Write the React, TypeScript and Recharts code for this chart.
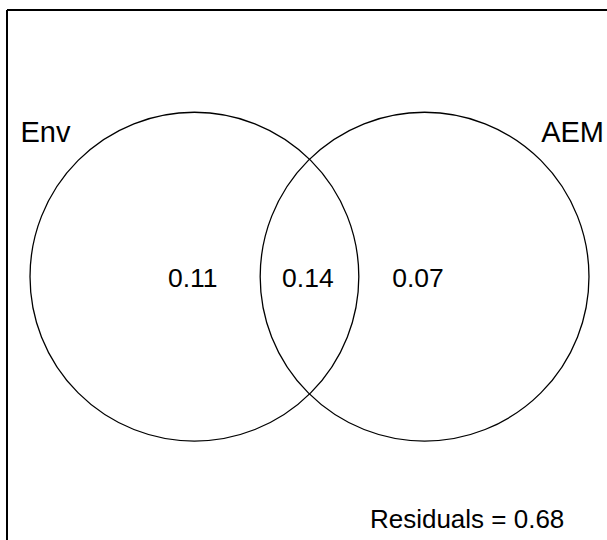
import React from 'react';
import { ScatterChart, Scatter, XAxis, YAxis, ReferenceLine } from 'recharts';

// Venn of variation partitioning (two explanatory sets)
const setNames = ['Env', 'AEM'];
const setCenterX = [-0.7, 0.7];
const setCenterY = [0, 0];
const setRadius = [1, 1];

// fractions: Env only, shared, AEM only
const fractionValues = [0.11, 0.14, 0.07];
const fractionX = [-0.71, -0.01, 0.66];
const fractionY = [0, 0, 0];

const residualValue = 0.68;
const residualX = [1.55];
const residualY = [-1.527];

const X_MIN = -1.84;
const X_MAX = 1.84;
const Y_MIN = -1.6;
const Y_MAX = 1.62;

const CHART_W = 613;
const CHART_H = 540;
const MARGIN = { top: 10, right: 1, bottom: 0, left: 7 };
const PX_PER_UNIT = (CHART_W - MARGIN.left - MARGIN.right) / (X_MAX - X_MIN);

const FONT = '"Liberation Sans", Arial, sans-serif';

const circleData = setNames.map((name, i) => ({
  x: setCenterX[i],
  y: setCenterY[i],
  r: setRadius[i],
  name,
  side: i === 0 ? 'left' : 'right',
}));

const fractionData = fractionValues.map((v, i) => ({
  x: fractionX[i],
  y: fractionY[i],
  label: v.toFixed(2),
}));

const residualData = residualX.map((x, i) => ({
  x,
  y: residualY[i],
  label: `Residuals = ${residualValue.toFixed(2)}`,
}));

const CircleShape = (props: any) => {
  const { cx, cy, payload } = props;
  const rpx = payload.r * PX_PER_UNIT;
  const labelY = cy - 0.818 * rpx;
  const isLeft = payload.side === 'left';
  return (
    <g>
      <circle cx={cx} cy={cy} r={rpx} fill="none" stroke="#000" strokeWidth={1.3} />
      <text
        x={isLeft ? cx - rpx - 9.5 : cx + rpx + 15}
        y={labelY}
        textAnchor={isLeft ? 'start' : 'end'}
        fontFamily={FONT}
        fontSize={29}
        fill="#000"
      >
        {payload.name}
      </text>
    </g>
  );
};

const CenterText = (props: any) => {
  const { cx, cy, payload } = props;
  return (
    <text x={cx} y={cy + 10} textAnchor="middle" fontFamily={FONT} fontSize={26.5} fill="#000">
      {payload.label}
    </text>
  );
};

const EndText = (props: any) => {
  const { cx, cy, payload } = props;
  return (
    <text x={cx} y={cy} textAnchor="end" fontFamily={FONT} fontSize={26} fill="#000">
      {payload.label}
    </text>
  );
};

export default function App() {
  return (
    <div
      style={{
        position: 'absolute',
        left: 0,
        top: 0,
        width: 607,
        height: 540,
        overflow: 'hidden',
        background: '#fff',
      }}
    >
      <ScatterChart width={CHART_W} height={CHART_H} margin={MARGIN}>
        <XAxis type="number" dataKey="x" domain={[X_MIN, X_MAX]} allowDataOverflow hide />
        <YAxis type="number" dataKey="y" domain={[Y_MIN, Y_MAX]} allowDataOverflow hide />
        <ReferenceLine x={X_MIN} stroke="#000" strokeWidth={2} />
        <ReferenceLine y={Y_MAX} stroke="#000" strokeWidth={2} />
        <Scatter data={circleData} shape={<CircleShape />} isAnimationActive={false} />
        <Scatter data={fractionData} shape={<CenterText />} isAnimationActive={false} />
        <Scatter data={residualData} shape={<EndText />} isAnimationActive={false} />
      </ScatterChart>
    </div>
  );
}
